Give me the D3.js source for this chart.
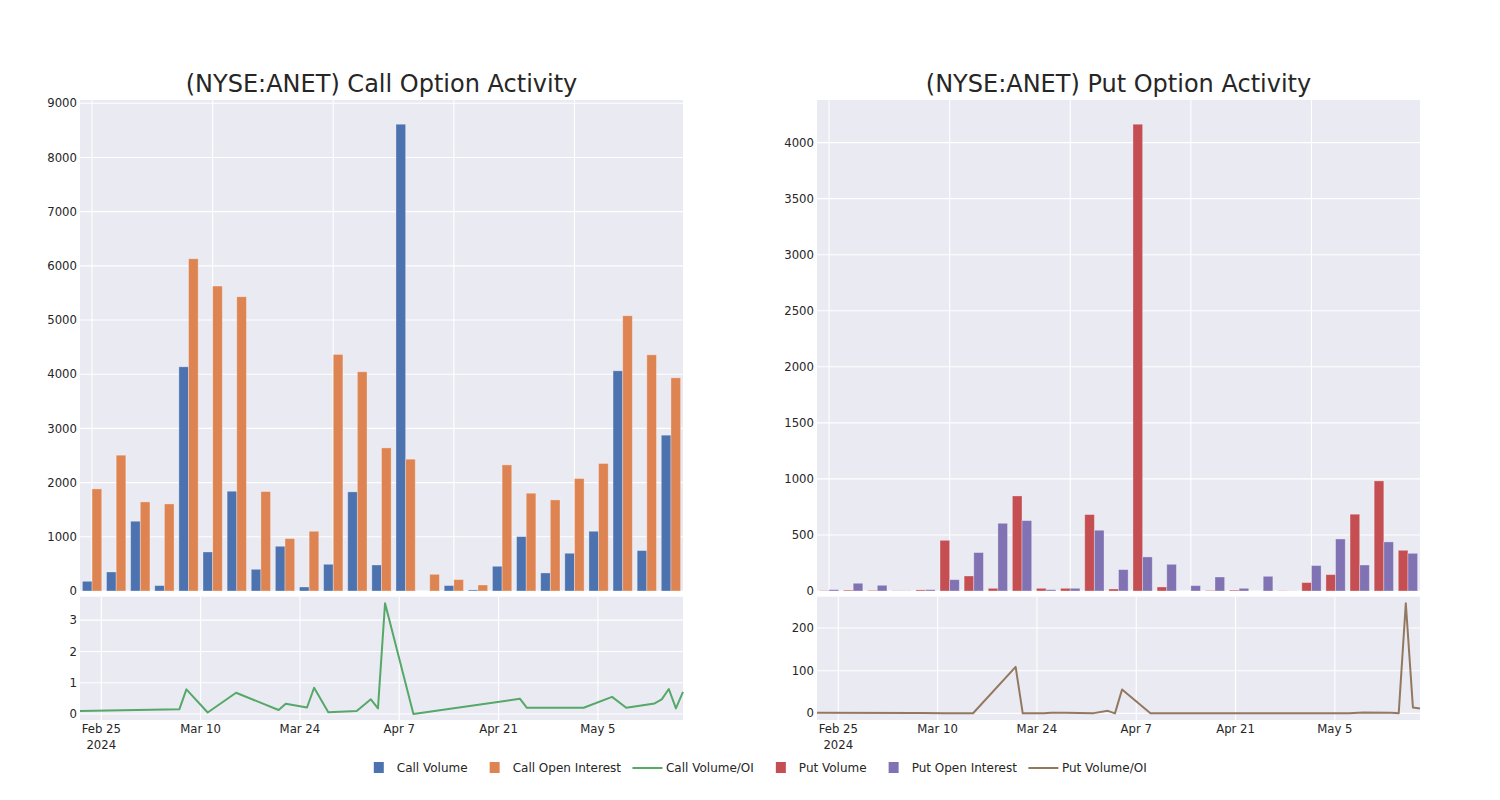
<!DOCTYPE html>
<html>
<head>
<meta charset="utf-8">
<script src="https://cdn.jsdelivr.net/npm/d3@7"></script>
<style>
  body { margin: 0; background: #fff; }
  svg { display: block; }
  text { font-family: "DejaVu Sans", sans-serif; fill: #262626; }
</style>
</head>
<body>
<svg id="chart" width="1500" height="800"></svg>
<script>
// ---------------- data ----------------
const dates = ["2024-02-22","2024-03-07","2024-03-08","2024-03-11","2024-03-15","2024-03-21","2024-03-22","2024-03-25","2024-03-26","2024-03-28","2024-04-01","2024-04-03","2024-04-04","2024-04-05","2024-04-09","2024-04-24","2024-04-25","2024-05-03","2024-05-07","2024-05-09","2024-05-13","2024-05-14","2024-05-15","2024-05-16","2024-05-17"];

const callVolume = [179,351,1287,100,4137,720,1841,400,825,74,493,1829,480,8613,0,100,20,456,1004,333,696,1102,4063,746,2875];
const callOpenInterest = [1884,2506,1644,1607,6131,5627,5430,1835,967,1102,4365,4045,2641,2432,308,210,111,2327,1804,1681,2075,2353,5079,4358,3934];
const callVolOI = [0.10,0.15,0.79,0.05,0.68,0.13,0.33,0.21,0.84,0.06,0.10,0.47,0.18,3.54,0.00,0.49,0.20,0.20,0.55,0.20,0.34,0.47,0.80,0.18,0.71];

const putVolume = [3,8,5,2,10,452,134,24,848,24,24,682,18,4164,36,0,4,8,0,2,75,146,685,982,363];
const putOpenInterest = [12,69,51,2,12,101,343,604,628,12,24,542,191,304,238,48,125,24,131,1,227,464,232,438,336];
const putVolOI = [1.5,0.8,0.8,0.5,0.3,109,0.2,0.3,1.5,1.2,0.6,6,0,56,0.1,0.1,0.1,0.1,0.2,2.3,1.2,0.5,258,14,11.5];

const callBarTicks = [0,1000,2000,3000,4000,5000,6000,7000,8000,9000];
const putBarTicks = [0,500,1000,1500,2000,2500,3000,3500,4000];
const callRatioTicks = [0,1,2,3];
const putRatioTicks = [0,100,200];
const dateTicks = ["2024-02-25","2024-03-10","2024-03-24","2024-04-07","2024-04-21","2024-05-05"];
const categoryGridIdx = [0,5,10,15,20];

const colors = {
  callVolume: "#4C72B0", callOI: "#DD8452", callRatio: "#55A868",
  putVolume: "#C44E52", putOI: "#8172B3", putRatio: "#937860"
};

// ---------------- drawing ----------------
const svg = d3.select("#chart");
svg.append("rect").attr("width",1500).attr("height",800).attr("fill","#fff");
const parse = d3.utcParse("%Y-%m-%d");
const dateObjs = dates.map(parse);
const fmt = d3.utcFormat("%b %-d");
const tickFont = 11.7;

function panel(opts) {
  const {x0, x1, title, vol, oi, ratio, barMax, barTicks, ratioDomain, ratioTicks, cVol, cOI, cRatio} = opts;
  const topY0 = 100, topY1 = 591, botY0 = 596.7, botY1 = 720;
  const g = svg.append("g");

  g.append("rect").attr("x",x0).attr("y",topY0).attr("width",x1-x0).attr("height",topY1-topY0).attr("fill","#EAEAF2");
  g.append("rect").attr("x",x0).attr("y",botY0).attr("width",x1-x0).attr("height",botY1-botY0).attr("fill","#EAEAF2");

  const idx = d3.range(vol.length);
  const xBand = d3.scaleBand().domain(idx).range([x0,x1]).paddingInner(0.2).paddingOuter(0.1);
  const xSub = d3.scaleBand().domain([0,1]).range([0,xBand.bandwidth()]);
  const yTop = d3.scaleLinear().domain([0,barMax]).range([topY1,topY0]);

  g.append("g").selectAll("line").data(barTicks).join("line")
    .attr("x1",x0).attr("x2",x1).attr("y1",d=>yTop(d)).attr("y2",d=>yTop(d))
    .attr("stroke","#fff").attr("stroke-width",1.1);
  g.append("g").selectAll("line").data(categoryGridIdx).join("line")
    .attr("x1",d=>xBand(d)+xBand.bandwidth()/2).attr("x2",d=>xBand(d)+xBand.bandwidth()/2)
    .attr("y1",topY0).attr("y2",topY1).attr("stroke","#fff").attr("stroke-width",1.1);

  const series = [{v:vol,c:cVol,k:0},{v:oi,c:cOI,k:1}];
  series.forEach(s => {
    g.append("g").selectAll("rect").data(idx).join("rect")
      .attr("x",i=>xBand(i)+xSub(s.k))
      .attr("width",xSub.bandwidth())
      .attr("y",i=>yTop(s.v[i]))
      .attr("height",i=>yTop(0)-yTop(s.v[i]))
      .attr("fill",s.c)
      .attr("stroke","#fff").attr("stroke-opacity",0.35).attr("stroke-width",0.9);
  });

  g.append("g").selectAll("text").data(barTicks).join("text")
    .attr("x",x0-3).attr("y",d=>yTop(d)).attr("dy","0.35em")
    .attr("text-anchor","end").attr("font-size",tickFont).text(d=>d);

  g.append("text").attr("x",(x0+x1)/2).attr("y",92).attr("text-anchor","middle")
    .attr("font-size",24).text(title);

  const xTime = d3.scaleUtc().domain([dateObjs[0], dateObjs[dateObjs.length-1]]).range([x0,x1]);
  const yBot = d3.scaleLinear().domain(ratioDomain).range([botY1,botY0]);

  g.append("g").selectAll("line").data(ratioTicks).join("line")
    .attr("x1",x0).attr("x2",x1).attr("y1",d=>yBot(d)).attr("y2",d=>yBot(d))
    .attr("stroke","#fff").attr("stroke-width",1.1);
  g.append("g").selectAll("line").data(dateTicks.map(parse)).join("line")
    .attr("x1",d=>xTime(d)).attr("x2",d=>xTime(d)).attr("y1",botY0).attr("y2",botY1)
    .attr("stroke","#fff").attr("stroke-width",1.1);

  const line = d3.line().x((d,i)=>xTime(dateObjs[i])).y(d=>yBot(d));
  g.append("path").datum(ratio).attr("d",line).attr("fill","none")
    .attr("stroke",cRatio).attr("stroke-width",2).attr("stroke-linejoin","round");

  g.append("g").selectAll("text").data(ratioTicks).join("text")
    .attr("x",x0-3).attr("y",d=>yBot(d)).attr("dy","0.35em")
    .attr("text-anchor","end").attr("font-size",tickFont).text(d=>d);

  g.append("g").selectAll("text").data(dateTicks.map(parse)).join("text")
    .attr("x",d=>xTime(d)).attr("y",733).attr("text-anchor","middle").attr("font-size",tickFont)
    .text(d=>fmt(d));
  g.append("text").attr("x",xTime(parse(dateTicks[0]))).attr("y",749)
    .attr("text-anchor","middle").attr("font-size",tickFont).text("2024");
}

panel({x0:80, x1:683, title:"(NYSE:ANET) Call Option Activity",
  vol:callVolume, oi:callOpenInterest, ratio:callVolOI, barMax:9060, barTicks:callBarTicks,
  ratioDomain:[-0.19,3.75], ratioTicks:callRatioTicks,
  cVol:colors.callVolume, cOI:colors.callOI, cRatio:colors.callRatio});

panel({x0:817, x1:1420, title:"(NYSE:ANET) Put Option Activity",
  vol:putVolume, oi:putOpenInterest, ratio:putVolOI, barMax:4380, barTicks:putBarTicks,
  ratioDomain:[-15.5,273.4], ratioTicks:putRatioTicks,
  cVol:colors.putVolume, cOI:colors.putOI, cRatio:colors.putRatio});

// legend
const legendItems = [
  {label:"Call Volume", color:colors.callVolume, type:"rect"},
  {label:"Call Open Interest", color:colors.callOI, type:"rect"},
  {label:"Call Volume/OI", color:colors.callRatio, type:"line"},
  {label:"Put Volume", color:colors.putVolume, type:"rect"},
  {label:"Put Open Interest", color:colors.putOI, type:"rect"},
  {label:"Put Volume/OI", color:colors.putRatio, type:"line"}
];
const lg = svg.append("g");
const ly = 768;
let cx = 0;
legendItems.forEach(it => {
  const grp = lg.append("g");
  if (it.type === "rect") {
    grp.append("rect").attr("x",cx+10.5).attr("y",ly-6).attr("width",10).attr("height",11).attr("fill",it.color);
  } else {
    grp.append("line").attr("x1",cx).attr("x2",cx+30).attr("y1",ly).attr("y2",ly)
      .attr("stroke",it.color).attr("stroke-width",2);
  }
  const t = grp.append("text").attr("x",cx+33.5).attr("y",ly).attr("dy","0.35em")
    .attr("font-size",12).text(it.label);
  const w = t.node().getComputedTextLength();
  cx += 33.5 + w + 11.5;
});
const totalW = cx - 11.5;
lg.attr("transform",`translate(${755 - totalW/2},0)`);
</script>
</body>
</html>
